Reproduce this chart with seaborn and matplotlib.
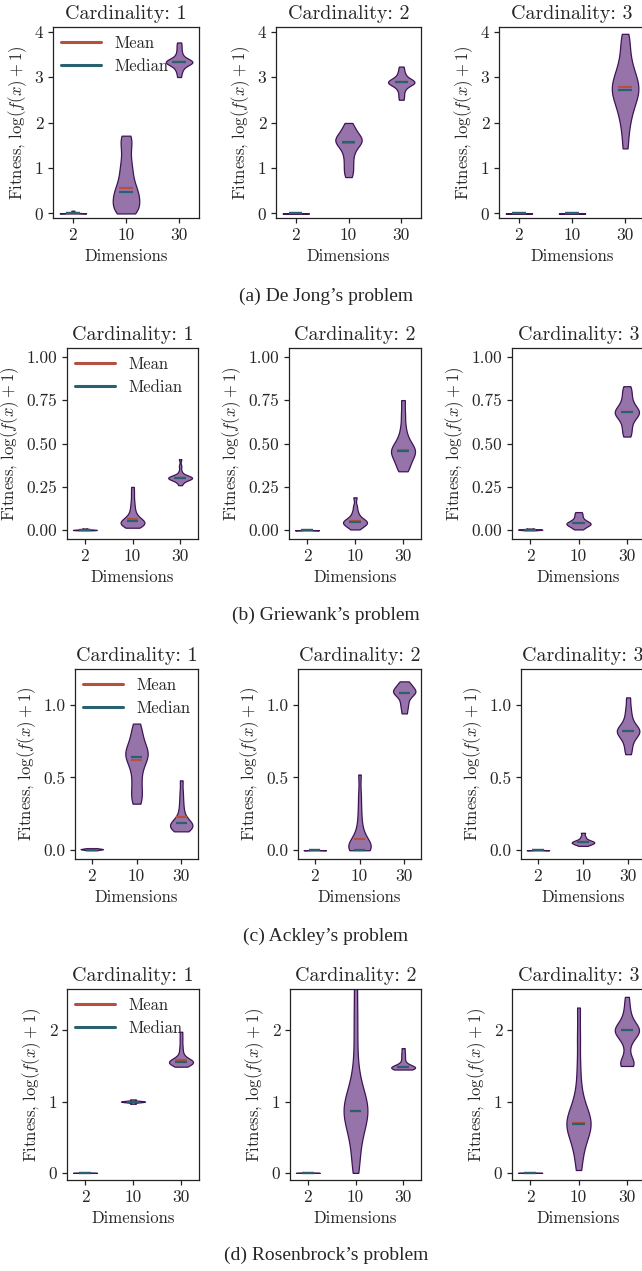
import numpy as np
import pandas as pd
import matplotlib
matplotlib.use("Agg")
import matplotlib.pyplot as plt
import seaborn as sns
from matplotlib.lines import Line2D

# ── data (fitness samples, log(f(x)+1)) ───────────────────────────────
DIMENSIONS = ["2", "10", "30"]
CARDINALITIES = [1, 2, 3]
CAPTIONS = ["(a) De Jong’s problem", "(b) Griewank’s problem",
            "(c) Ackley’s problem", "(d) Rosenbrock’s problem"]

FLAT = [0, 0, 0, 0.001, 0.001, 0.002, 0.003]

DEJONG_C1 = [[0, 0, 0, 0, 0.001, 0.002, 0.003, 0.005, 0.01, 0.03, 0.06],
             [0.0, 0.02, 0.05, 0.1, 0.15, 0.2, 0.25, 0.3, 0.35, 0.4, 0.45, 0.5,
              0.55, 0.62, 0.7, 0.8, 0.9, 1.0, 1.1, 1.25, 1.4, 1.55, 1.65, 1.71],
             [3.0, 3.1, 3.17, 3.22, 3.26, 3.29, 3.31, 3.32, 3.33, 3.33, 3.34,
              3.35, 3.37, 3.4, 3.44, 3.5, 3.58, 3.67, 3.76]]
DEJONG_C2 = [FLAT,
             [0.8, 0.9, 1.0, 1.1, 1.2, 1.3, 1.38, 1.45, 1.5, 1.54, 1.57, 1.6,
              1.62, 1.65, 1.68, 1.72, 1.77, 1.83, 1.9, 1.99],
             [2.5, 2.6, 2.7, 2.77, 2.82, 2.85, 2.87, 2.88, 2.89, 2.9, 2.92,
              2.95, 2.99, 3.05, 3.13, 3.23]]
DEJONG_C3 = [FLAT, FLAT,
             [1.43, 1.75, 1.98, 2.15, 2.28, 2.39, 2.48, 2.56, 2.63, 2.69,
              2.75, 2.81, 2.88, 2.95, 3.03, 3.12, 3.23, 3.37, 3.55, 3.75, 3.95]]
DEJONG_MEAN = [[0.01, 0.56, 3.33], [0.0, 1.55, 2.88], [0.0, 0.0, 2.77]]
DEJONG_MEDIAN = [[0.0, 0.48, 3.32], [0.0, 1.57, 2.88], [0.0, 0.0, 2.72]]

GRIEWANK_C1 = [[0, 0.001, 0.002, 0.002, 0.003, 0.004, 0.005, 0.01],
               [0.015, 0.022, 0.028, 0.032, 0.036, 0.039, 0.042, 0.045, 0.048,
                0.052, 0.057, 0.063, 0.07, 0.08, 0.095, 0.115, 0.14, 0.17,
                0.21, 0.25],
               [0.26, 0.275, 0.285, 0.29, 0.295, 0.297, 0.3, 0.3, 0.302,
                0.303, 0.305, 0.307, 0.31, 0.315, 0.32, 0.34, 0.37, 0.41]]
GRIEWANK_C2 = [FLAT,
               [0.005, 0.015, 0.025, 0.032, 0.037, 0.041, 0.045, 0.049, 0.053,
                0.058, 0.065, 0.075, 0.09, 0.11, 0.14, 0.19],
               [0.34, 0.36, 0.38, 0.4, 0.42, 0.435, 0.445, 0.455, 0.46, 0.47,
                0.48, 0.5, 0.52, 0.55, 0.6, 0.67, 0.75]]
GRIEWANK_C3 = [[0, 0.002, 0.003, 0.004, 0.005, 0.006, 0.01],
               [0.005, 0.015, 0.024, 0.03, 0.034, 0.038, 0.042, 0.047, 0.053,
                0.062, 0.075, 0.09, 0.105],
               [0.54, 0.57, 0.6, 0.63, 0.65, 0.665, 0.675, 0.68, 0.69, 0.7,
                0.72, 0.74, 0.77, 0.8, 0.83]]
GRIEWANK_MEAN = [[0.0, 0.065, 0.30], [0.0, 0.055, 0.46], [0.0, 0.045, 0.68]]
GRIEWANK_MEDIAN = [[0.0, 0.055, 0.30], [0.0, 0.05, 0.455], [0.0, 0.04, 0.68]]

ACKLEY_C1 = [[0, 0.003, 0.005, 0.007, 0.008, 0.01, 0.012, 0.015],
             [0.32, 0.36, 0.4, 0.45, 0.5, 0.55, 0.59, 0.62, 0.64, 0.655, 0.67,
              0.69, 0.71, 0.74, 0.78, 0.82, 0.87],
             [0.13, 0.14, 0.15, 0.16, 0.165, 0.17, 0.175, 0.18, 0.19, 0.2,
              0.22, 0.25, 0.29, 0.34, 0.4, 0.48]]
ACKLEY_C2 = [FLAT,
             [0.0, 0.0, 0.005, 0.01, 0.015, 0.02, 0.03, 0.04, 0.055, 0.075,
              0.1, 0.14, 0.2, 0.28, 0.38, 0.52],
             [0.94, 0.98, 1.01, 1.04, 1.06, 1.075, 1.085, 1.09, 1.1, 1.11,
              1.125, 1.14, 1.16]]
ACKLEY_C3 = [FLAT,
             [0.03, 0.038, 0.044, 0.048, 0.052, 0.055, 0.058, 0.062, 0.068,
              0.078, 0.095, 0.12],
             [0.66, 0.7, 0.74, 0.77, 0.79, 0.805, 0.815, 0.82, 0.83, 0.84,
              0.86, 0.89, 0.93, 0.98, 1.05]]
ACKLEY_MEAN = [[0.0, 0.62, 0.23], [0.0, 0.075, 1.08], [0.0, 0.055, 0.82]]
ACKLEY_MEDIAN = [[0.0, 0.64, 0.19], [0.0, 0.0, 1.08], [0.0, 0.055, 0.82]]

ROSENBROCK_C1 = [FLAT,
                 [0.97, 0.99, 0.995, 1.0, 1.0, 1.005, 1.01, 1.03],
                 [1.49, 1.51, 1.53, 1.54, 1.545, 1.55, 1.555, 1.56, 1.565,
                  1.57, 1.58, 1.6, 1.64, 1.7, 1.78, 1.88, 1.98]]
ROSENBROCK_C2 = [FLAT,
                 [0.0, 0.15, 0.3, 0.45, 0.55, 0.63, 0.7, 0.76, 0.81, 0.85,
                  0.88, 0.91, 0.95, 1.0, 1.06, 1.13, 1.22, 1.35, 1.6, 1.95,
                  2.3, 2.7],
                 [1.45, 1.46, 1.465, 1.47, 1.475, 1.48, 1.485, 1.49, 1.5, 1.52,
                  1.56, 1.62, 1.68, 1.75]]
ROSENBROCK_C3 = [FLAT,
                 [0.04, 0.2, 0.35, 0.45, 0.53, 0.59, 0.64, 0.67, 0.69, 0.71,
                  0.74, 0.78, 0.84, 0.92, 1.02, 1.2, 1.5, 1.9, 2.32],
                 [1.5, 1.51, 1.53, 1.55, 1.58, 1.7, 1.82, 1.88, 1.92, 1.95,
                  1.97, 1.99, 2.0, 2.01, 2.03, 2.05, 2.08, 2.12, 2.18, 2.25,
                  2.35, 2.47]]
ROSENBROCK_MEAN = [[0.0, 1.0, 1.58], [0.0, 0.87, 1.48], [0.0, 0.70, 2.0]]
ROSENBROCK_MEDIAN = [[0.0, 1.0, 1.55], [0.0, 0.87, 1.48], [0.0, 0.68, 2.0]]

Y_LIMITS = [(-0.1, 4.1), (-0.05, 1.05), (-0.06, 1.245), (-0.1, 2.58)]
Y_TICKS = [[0, 1, 2, 3, 4], [0, 0.25, 0.5, 0.75, 1.0], [0, 0.5, 1.0], [0, 1, 2]]
Y_FMT = ["%d", "%.2f", "%.1f", "%d"]

# ── style ─────────────────────────────────────────────────────
FILL = "#9674aa"
EDGE = "#3d1556"
MEAN_C = "#b5503f"
MEDIAN_C = "#2a6170"

sns.set_style("ticks")
plt.rcParams["font.family"] = ["cmr10", "DejaVu Serif"]
plt.rcParams["mathtext.fontset"] = "cm"
plt.rcParams["axes.unicode_minus"] = False
plt.rcParams["axes.edgecolor"] = "#222222"

W, H = 642, 1271
fig = plt.figure(figsize=(W / 100, H / 100), dpi=100)

# axes boxes in pixels: (left, top, right, bottom)
BOXES = [
    [(53, 27, 199, 218), (276, 27, 421, 218), (499, 27, 645, 218)],
    [(67, 348, 198, 539), (289, 348, 421, 539), (512, 348, 645, 539)],
    [(75, 669, 198, 859), (298, 669, 421, 859), (521, 669, 645, 859)],
    [(67, 989, 199, 1180), (290, 989, 421, 1180), (512, 989, 645, 1180)],
]
CAPTION_Y = [296, 615, 936, 1255]

ROWS = [
    ([DEJONG_C1, DEJONG_C2, DEJONG_C3], DEJONG_MEAN, DEJONG_MEDIAN),
    ([GRIEWANK_C1, GRIEWANK_C2, GRIEWANK_C3], GRIEWANK_MEAN, GRIEWANK_MEDIAN),
    ([ACKLEY_C1, ACKLEY_C2, ACKLEY_C3], ACKLEY_MEAN, ACKLEY_MEDIAN),
    ([ROSENBROCK_C1, ROSENBROCK_C2, ROSENBROCK_C3], ROSENBROCK_MEAN, ROSENBROCK_MEDIAN),
]


def add_ax(box):
    l, t, r, b = box
    return fig.add_axes([l / W, 1 - b / H, (r - l) / W, (b - t) / H])


for row, (panels, means, medians) in enumerate(ROWS):
    for col, samples in enumerate(panels):
        ax = add_ax(BOXES[row][col])
        df = pd.DataFrame({
            "dim": [d for d, s in zip(DIMENSIONS, samples) for _ in s],
            "fitness": [v for s in samples for v in s],
        })
        sns.violinplot(data=df, x="dim", y="fitness", order=DIMENSIONS,
                       cut=0, inner=None, density_norm="width", width=0.5,
                       bw_adjust=0.6, color=FILL, saturation=1,
                       linecolor=EDGE, linewidth=0.9, ax=ax)
        pos = np.arange(len(DIMENSIONS))
        ax.hlines(means[col], pos - 0.125, pos + 0.125, color=MEAN_C,
                  lw=1.6, zorder=4)
        ax.hlines(medians[col], pos - 0.125, pos + 0.125, color=MEDIAN_C,
                  lw=1.6, zorder=5)

        ax.set_xlim(-0.375, 2.375)
        ax.set_ylim(*Y_LIMITS[row])
        ax.set_yticks(Y_TICKS[row])
        ax.set_yticklabels([Y_FMT[row] % v for v in Y_TICKS[row]])
        ax.tick_params(labelsize=12.5, length=3.5, width=0.9, color="#222222")
        ax.set_xlabel("Dimensions", fontsize=12)
        ax.set_ylabel(r"Fitness, $\log(f(x)+1)$", fontsize=12)
        ax.set_title(f"Cardinality: {CARDINALITIES[col]}", fontsize=14.4)
        for sp in ax.spines.values():
            sp.set_linewidth(0.9)

        if col == 0:
            handles = [Line2D([], [], color=MEAN_C, lw=2.2),
                       Line2D([], [], color=MEDIAN_C, lw=2.2)]
            leg = ax.legend(handles, ["Mean", "Median"], loc="upper left",
                            frameon=False, fontsize=12, handlelength=2.4,
                            borderaxespad=0.3, borderpad=0.2, labelspacing=0.5)
            leg.set_zorder(0.5)

    fig.text(326 / W, 1 - CAPTION_Y[row] / H, CAPTIONS[row], ha="center",
             va="center", fontsize=14, family="Liberation Serif")

fig.savefig("out.png", dpi=100)
